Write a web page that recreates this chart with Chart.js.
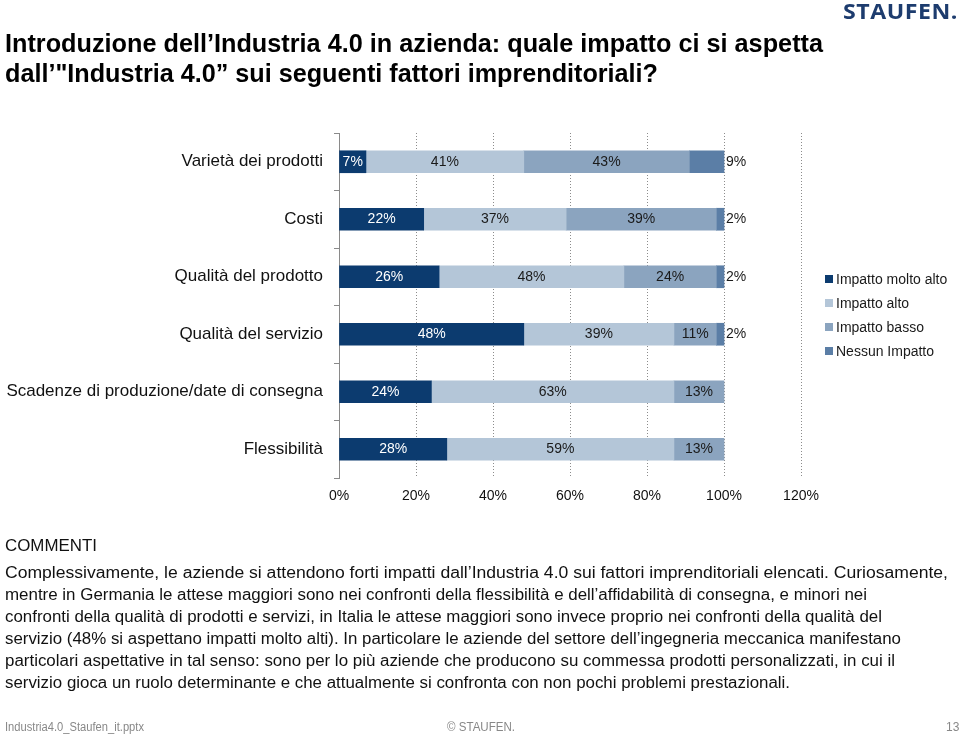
<!DOCTYPE html>
<html>
<head>
<meta charset="utf-8">
<script src="https://cdn.jsdelivr.net/npm/chart.js@4"></script>
<style>
  html, body { margin:0; padding:0; background:#fff; }
  body { width:960px; height:735px; position:relative; overflow:hidden; font-family:"Liberation Sans", Arial, sans-serif; }
  #c { position:absolute; left:0; top:0; width:960px; height:735px; }
  .t { position:absolute; white-space:nowrap; transform-origin:0 0; line-height:1; }
  .title { font-weight:bold; font-size:25px; color:#000; }
  .logo { font-family:"Open Sans", sans-serif; font-weight:700; font-size:21px; color:#1d3c6e; letter-spacing:0.5px; }
  .cm { font-size:16px; color:#111; }
  .ft { font-size:12px; color:#888; }
</style>
</head>
<body>
<canvas id="c" width="960" height="735"></canvas>
<div class="t logo" data-w="115" style="left:843px; top:1px;">STAUFEN.</div>
<div class="t title" data-w="818" style="left:5px; top:31px;">Introduzione dell’Industria 4.0 in azienda: quale impatto ci si aspetta</div>
<div class="t title" data-w="653" style="left:5px; top:61px;">dall’"Industria 4.0” sui seguenti fattori imprenditoriali?</div>

<div class="t cm" data-w="92" style="left:5px; top:538px;">COMMENTI</div>
<div class="t cm" data-w="943" style="left:5px; top:565px;">Complessivamente, le aziende si attendono forti impatti dall’Industria 4.0 sui fattori imprenditoriali elencati. Curiosamente,</div>
<div class="t cm" data-w="862" style="left:5px; top:587px;">mentre in Germania le attese maggiori sono nei confronti della flessibilità e dell’affidabilità di consegna, e minori nei</div>
<div class="t cm" data-w="877" style="left:5px; top:609px;">confronti della qualità di prodotti e servizi, in Italia le attese maggiori sono invece proprio nei confronti della qualità del</div>
<div class="t cm" data-w="896" style="left:5px; top:631px;">servizio (48% si aspettano impatti molto alti). In particolare le aziende del settore dell’ingegneria meccanica manifestano</div>
<div class="t cm" data-w="890" style="left:5px; top:653px;">particolari aspettative in tal senso: sono per lo più aziende che producono su commessa prodotti personalizzati, in cui il</div>
<div class="t cm" data-w="785" style="left:5px; top:675px;">servizio gioca un ruolo determinante e che attualmente si confronta con non pochi problemi prestazionali.</div>

<div class="t ft" data-w="139" style="left:5px; top:721px;">Industria4.0_Staufen_it.pptx</div>
<div class="t ft" data-w="68" style="left:447px; top:721px;">© STAUFEN.</div>
<div class="t ft" style="left:946px; top:721px;">13</div>

<script>
// ---- data ----
const categories = ['Varietà dei prodotti', 'Costi', 'Qualità del prodotto', 'Qualità del servizio', 'Scadenze di produzione/date di consegna', 'Flessibilità'];
const seriesNames = ['Impatto molto alto', 'Impatto alto', 'Impatto basso', 'Nessun Impatto'];
const moltoAlto = [7, 22, 26, 48, 24, 28];
const alto = [41, 37, 48, 39, 63, 59];
const basso = [43, 39, 24, 11, 13, 13];
const nessun = [9, 2, 2, 2, null, null];
const xTickValues = [0, 20, 40, 60, 80, 100, 120];

// ---- fit text widths ----
document.querySelectorAll('[data-w]').forEach(el => {
  const w = parseFloat(el.dataset.w);
  const nat = el.getBoundingClientRect().width;
  if (nat > 0) el.style.transform = 'scaleX(' + (w / nat) + ')';
});

const colors = ['#0c3b6f', '#b4c6d8', '#8ba4bf', '#5b7ea6'];
const labelColors = ['#ffffff', '#1a1a1a', '#1a1a1a', '#1a1a1a'];
const seriesData = [moltoAlto, alto, basso, nessun];

const labelPlugin = {
  id: 'segLabels',
  afterDatasetsDraw(chart) {
    const ctx = chart.ctx;
    ctx.save();
    ctx.font = '14px "Liberation Sans", Arial, sans-serif';
    ctx.textBaseline = 'middle';
    chart.data.datasets.forEach((ds, i) => {
      const meta = chart.getDatasetMeta(i);
      meta.data.forEach((bar, j) => {
        const v = ds.data[j];
        if (v === null || v === undefined) return;
        const txt = v + '%';
        if (i === 3) {
          ctx.fillStyle = '#1a1a1a';
          ctx.textAlign = 'left';
          ctx.fillText(txt, Math.max(bar.x, bar.base) + 2, bar.y);
        } else {
          ctx.fillStyle = labelColors[i];
          ctx.textAlign = 'center';
          ctx.fillText(txt, (bar.x + bar.base) / 2, bar.y);
        }
      });
    });
    // legend
    ctx.font = '14px "Liberation Sans", Arial, sans-serif';
    ctx.textAlign = 'left';
    chart.data.datasets.forEach((ds, i) => {
      const y = 279 + i * 24;
      ctx.fillStyle = ds.backgroundColor;
      ctx.fillRect(825, y - 4, 8, 8);
      ctx.fillStyle = '#1a1a1a';
      ctx.fillText(ds.label, 836, y + 1);
    });
    ctx.restore();
  }
};

new Chart(document.getElementById('c'), {
  type: 'bar',
  data: {
    labels: categories,
    datasets: seriesData.map((d, i) => ({
      label: seriesNames[i],
      data: d,
      backgroundColor: colors[i],
      borderWidth: 0,
      barThickness: 22
    }))
  },
  options: {
    indexAxis: 'y',
    responsive: false,
    animation: false,
    layout: { padding: { top: 133, right: 159, left: 0, bottom: 0 } },
    plugins: { legend: { display: false }, tooltip: { enabled: false } },
    scales: {
      x: {
        stacked: true,
        min: 0, max: 120,
        afterFit(scale) { scale.height = 735 - 478; },
        afterBuildTicks(scale) { scale.ticks = xTickValues.map(v => ({ value: v })); },
        border: { display: false, dash: [1, 2] },
        grid: {
          color: (c) => c.tick && c.tick.value === 0 ? 'rgba(0,0,0,0)' : '#8c8c8c',
          lineWidth: 1,
          drawTicks: false
        },
        ticks: {
          padding: 10,
          color: '#111',
          font: { family: '"Liberation Sans", Arial, sans-serif', size: 14 },
          callback: (v) => v + '%'
        }
      },
      y: {
        stacked: true,
        afterFit(scale) { scale.width = 339; },
        border: { display: true, color: '#8a8a8a', width: 1 },
        grid: { display: true, drawOnChartArea: false, offset: true, tickLength: 5, color: '#8a8a8a' },
        ticks: {
          padding: 11,
          color: '#111',
          font: { family: '"Liberation Sans", Arial, sans-serif', size: 17 }
        }
      }
    }
  },
  plugins: [labelPlugin]
});
</script>
</body>
</html>
